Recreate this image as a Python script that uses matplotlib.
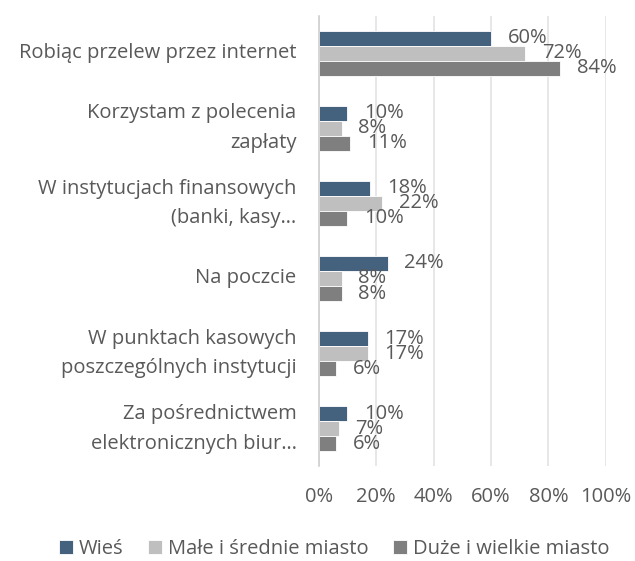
import numpy as np
import matplotlib.pyplot as plt

categories = [
    'Robiąc przelew przez internet',
    'Korzystam z polecenia\nzapłaty',
    'W instytucjach finansowych\n(banki, kasy…',
    'Na poczcie',
    'W punktach kasowych\nposzczególnych instytucji',
    'Za pośrednictwem\nelektronicznych biur…',
]
series = ['Wieś', 'Małe i średnie miasto', 'Duże i wielkie miasto']
wies = [60, 10, 18, 24, 17, 10]
male = [72, 8, 22, 8, 17, 7]
duze = [84, 11, 10, 8, 6, 6]
colors = ['#44617D', '#BFBFBF', '#7F7F7F']
ticks = [0, 20, 40, 60, 80, 100]

plt.rcParams['font.family'] = ['Open Sans', 'DejaVu Sans']
text_color = '#595959'
fs = 14.5

fig = plt.figure(figsize=(6.35, 5.61), dpi=100)
ax = fig.add_axes([0.502, 0.169, 0.452, 0.803])

y = np.arange(len(categories))
h = 0.2
for i, (vals, col, name) in enumerate(zip([wies, male, duze], colors, series)):
    pos = y + (i - 1) * h
    ax.barh(pos, vals, height=h, color=col, edgecolor='white',
            linewidth=0.6, label=name, zorder=3)
    for p, v in zip(pos, vals):
        ax.annotate('%d%%' % v, (v, p), xytext=(12, 0),
                    textcoords='offset points', ha='left', va='center',
                    fontsize=fs, color=text_color, zorder=4)

ax.set_ylim(len(categories) - 0.5, -0.5)
ax.set_xlim(0, 100)
ax.set_yticks(y)
ax.set_yticklabels(categories, fontsize=fs, color=text_color,
                   linespacing=1.65)
for lbl in ax.get_yticklabels():
    lbl.set_va('center')
ax.set_xticks(ticks)
ax.set_xticklabels(['%d%%' % t for t in ticks], fontsize=fs,
                   color=text_color)
ax.tick_params(axis='both', length=0)
ax.tick_params(axis='y', pad=16)
ax.tick_params(axis='x', pad=15)
ax.grid(axis='x', color='#E3E3E3', linewidth=1.2, zorder=0)
for s in ['top', 'right', 'bottom']:
    ax.spines[s].set_visible(False)
ax.spines['left'].set_color('#D0D0D0')
ax.spines['left'].set_linewidth(1.2)
ax.spines['left'].set_zorder(5)

leg = fig.legend(loc='center', bbox_to_anchor=(0.526, 0.022), ncol=3,
                 frameon=False, fontsize=fs, handlelength=0.7,
                 handleheight=0.7, handletextpad=0.3, columnspacing=1.2)
for t in leg.get_texts():
    t.set_color(text_color)

fig.savefig('out.png', dpi=100)
